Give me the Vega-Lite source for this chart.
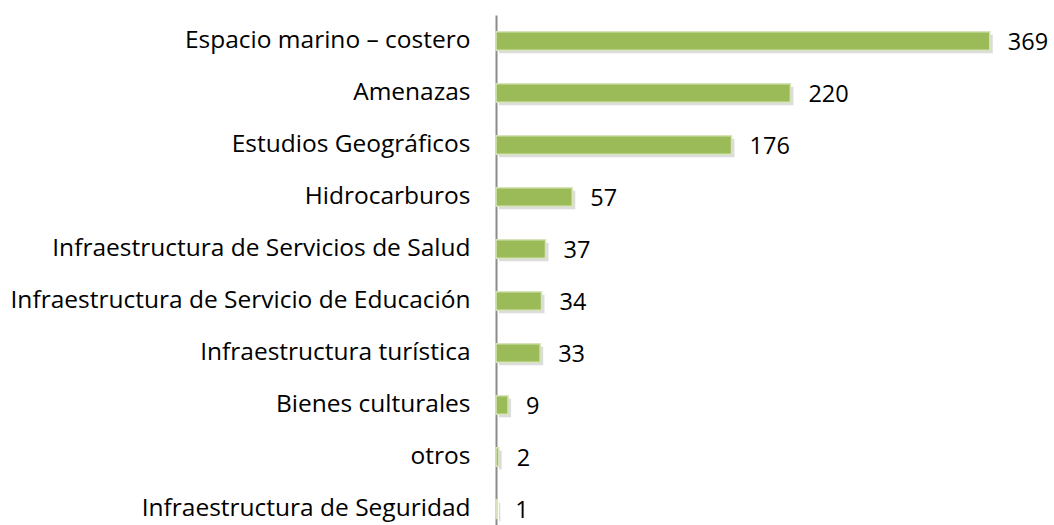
{
  "$schema": "https://vega.github.io/schema/vega-lite/v6.json",
  "autosize": "none",
  "padding": {"left": 496, "top": 15, "right": 0, "bottom": 0},
  "width": 558,
  "height": 520,
  "background": "white",
  "config": {"view": {"stroke": null}},
  "data": {"values": [
    {"categoria": "Espacio marino – costero", "valor": 369},
    {"categoria": "Amenazas", "valor": 220},
    {"categoria": "Estudios Geográficos", "valor": 176},
    {"categoria": "Hidrocarburos", "valor": 57},
    {"categoria": "Infraestructura de Servicios de Salud", "valor": 37},
    {"categoria": "Infraestructura de Servicio de Educación", "valor": 34},
    {"categoria": "Infraestructura turística", "valor": 33},
    {"categoria": "Bienes culturales", "valor": 9},
    {"categoria": "otros", "valor": 2},
    {"categoria": "Infraestructura de Seguridad", "valor": 1}
  ]},
  "encoding": {
    "y": {"field": "categoria", "type": "nominal", "sort": null,
      "scale": {"paddingInner": 0.64, "paddingOuter": 0.32},
      "axis": {"title": null, "ticks": false, "domainColor": "#8c8c8c", "domainWidth": 2,
        "labelFont": "Open Sans", "labelFontSize": 24.5, "labelColor": "#000000",
        "labelPadding": 26, "labelLimit": 600}},
    "x": {"field": "valor", "type": "quantitative", "scale": {"domain": [0, 417]}, "axis": null}
  },
  "layer": [
    {"mark": {"type": "bar", "color": "#8a8a8a", "opacity": 0.3, "xOffset": 3, "yOffset": 3}},
    {"mark": {"type": "bar", "color": "#9bbb59", "stroke": "#d6e4b8", "strokeWidth": 1.5}},
    {"mark": {"type": "text", "align": "left", "baseline": "middle", "dx": 18, "dy": 2, "font": "Open Sans", "fontSize": 23.5, "color": "#000000"},
      "encoding": {"text": {"field": "valor", "type": "quantitative"}}}
  ]
}
